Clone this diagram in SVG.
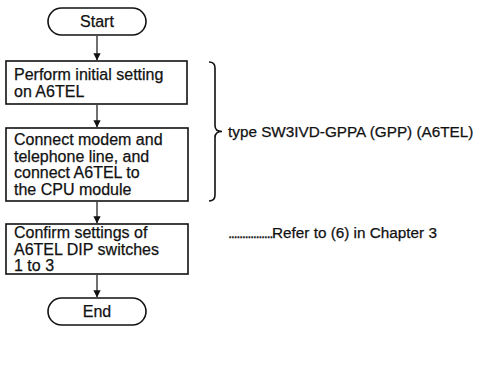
<svg xmlns="http://www.w3.org/2000/svg" width="480" height="389" viewBox="0 0 480 389">
<defs>
<marker id="ah" viewBox="0 0 8 10" refX="7.5" refY="5" markerWidth="8" markerHeight="9" markerUnits="userSpaceOnUse" orient="auto">
<path d="M0,1 L8,5 L0,9 Z" fill="#111"/>
</marker>
<style>
.t{font-family:"Liberation Sans",Arial,sans-serif;font-size:16px;fill:#111;stroke:#111;stroke-width:0.25}
.n{font-size:15.3px}
.box{fill:#fff;stroke:#111;stroke-width:1.6}
.term{fill:#fff;stroke:#111;stroke-width:1.6}
.conn{fill:none;stroke:#111;stroke-width:1.2}
</style>
</defs>
<rect width="480" height="389" fill="#fff"/>
<g id="connectors">
<line class="conn" x1="97" y1="36" x2="97" y2="60" marker-end="url(#ah)"/>
<line class="conn" x1="97" y1="105" x2="97" y2="127" marker-end="url(#ah)"/>
<line class="conn" x1="97" y1="202" x2="97" y2="223" marker-end="url(#ah)"/>
<line class="conn" x1="97" y1="275" x2="97" y2="297" marker-end="url(#ah)"/>
</g>
<g id="start">
<rect class="term" x="48" y="8" width="98" height="27" rx="13.5"/>
<text class="t" x="97" y="27" text-anchor="middle">Start</text>
</g>
<g id="step1">
<rect class="box" x="6" y="61" width="181" height="43"/>
<text class="t" x="14" y="79.5">Perform initial setting</text>
<text class="t" x="14" y="97">on A6TEL</text>
</g>
<g id="step2">
<rect class="box" x="6" y="128" width="182" height="73"/>
<text class="t" x="14" y="145.4">Connect modem and</text>
<text class="t" x="14" y="161.9">telephone line, and</text>
<text class="t" x="14" y="178.4">connect A6TEL to</text>
<text class="t" x="14" y="194.9">the CPU module</text>
</g>
<g id="step3">
<rect class="box" x="6" y="224" width="182" height="50"/>
<text class="t" x="14" y="238.2">Confirm settings of</text>
<text class="t" x="14" y="254.7">A6TEL DIP switches</text>
<text class="t" x="14" y="271.2">1 to 3</text>
</g>
<g id="end">
<rect class="term" x="48" y="298" width="98" height="27" rx="13.5"/>
<text class="t" x="97" y="317" text-anchor="middle">End</text>
</g>
<g id="brace-note">
<path class="conn" style="stroke-width:1.6" d="M209,62 Q215,62 215,68 L215,125.5 Q215,131.5 222,131.5 Q215,131.5 215,137.5 L215,195 Q215,201 209,201"/>
<text class="t n" x="228" y="137">type SW3IVD-GPPA (GPP) (A6TEL)</text>
</g>
<g id="refer-note">
<text class="t n" x="228" y="238.2"><tspan letter-spacing="-1.5">................</tspan>Refer to (6) in Chapter 3</text>
</g>
</svg>
